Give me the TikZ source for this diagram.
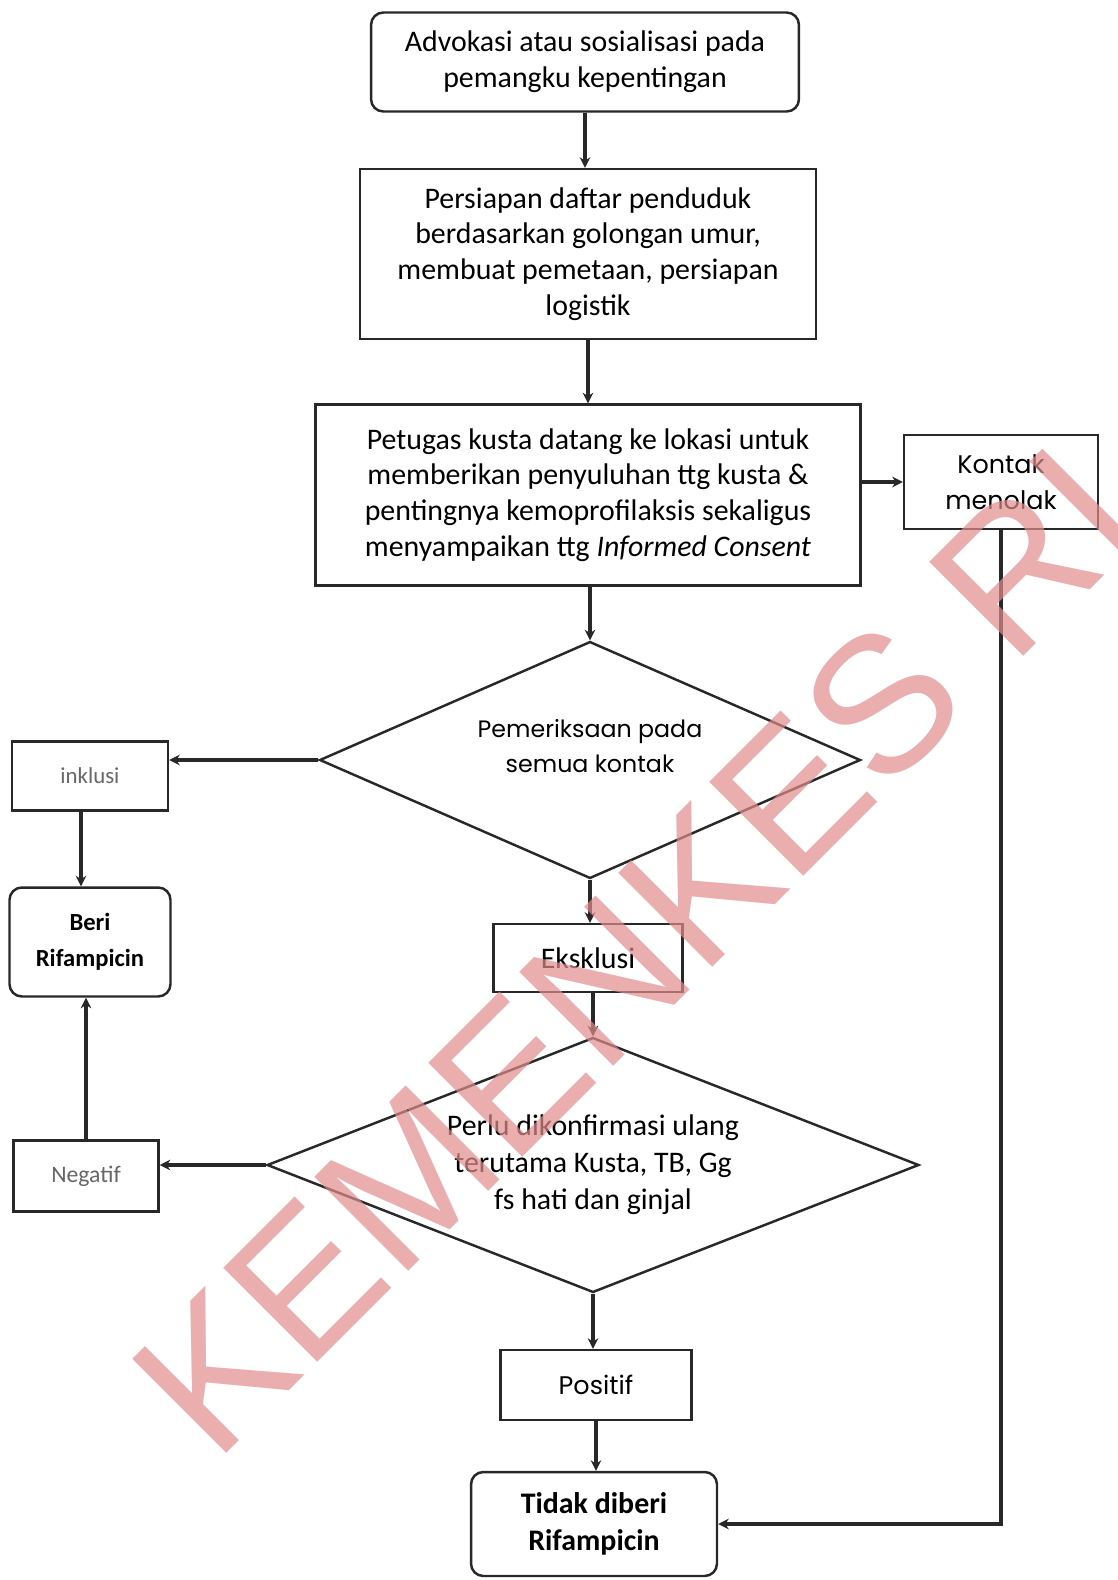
\documentclass[tikz,border=0pt]{standalone}
\usepackage{fontspec}
\setmainfont{Carlito}
\newfontfamily\geo{Poppins}
\newfontfamily\wmfont{Liberation Sans}
\usetikzlibrary{shapes.geometric,arrows.meta}
\definecolor{wmred}{RGB}{225,140,140}
\definecolor{ink}{RGB}{40,40,40}
\begin{document}
\begin{tikzpicture}[x=0.02cm,y=-0.02cm,
  box/.style={draw=ink,line width=1.4pt,align=center,inner sep=0pt,
    font=\fontsize{17}{20.4}\selectfont},
  rbox/.style={box,rounded corners=7pt},
  dia/.style={diamond,draw=ink,line width=1.4pt,align=center,inner sep=0pt,shape aspect=2.4},
  conn/.style={draw=ink,line width=2pt,-{Stealth[length=6pt,width=6pt]}},
]
\useasboundingbox (0,0) rectangle (1117,1580);
\clip (0,0) rectangle (1117,1580);

% main column
\node[rbox,minimum width=8.56cm,minimum height=1.98cm] (adv) at (585,62)
  {Advokasi atau sosialisasi pada\\pemangku kepentingan};
\node[box,minimum width=9.12cm,minimum height=3.4cm] (per) at (588,254)
  {Persiapan daftar penduduk\\berdasarkan golongan umur,\\membuat pemetaan, persiapan\\logistik};
\node[box,minimum width=10.9cm,minimum height=3.62cm] (pet) at (588,495)
  {Petugas kusta datang ke lokasi untuk\\memberikan penyuluhan ttg kusta \&\\pentingnya kemoprofilaksis sekaligus\\menyampaikan ttg \textit{Informed Consent}};
\node[box,minimum width=3.88cm,minimum height=1.88cm,font=\geo\fontsize{14.5}{20.4}\selectfont] (kon) at (1001,482)
  {Kontak\\menolak};

\node[dia,minimum width=10.82cm,minimum height=4.74cm] (d1) at (590,760) {};
\node[align=center,inner sep=0pt,font=\geo\fontsize{13.5}{20.4}\selectfont] (d1t) at (590,746)
  {Pemeriksaan pada\\semua kontak};
\node[box,minimum width=3.12cm,minimum height=1.38cm,text=black!60,font=\fontsize{13}{16}\selectfont] (ink) at (90,776)
  {inklusi};
\node[rbox,minimum width=3.22cm,minimum height=2.18cm,font=\bfseries\fontsize{14}{20.4}\selectfont] (beri) at (90,942)
  {Beri\\Rifampicin};
\node[box,minimum width=3.78cm,minimum height=1.36cm] (eks) at (588,958)
  {Eksklusi};

\node[dia,minimum width=13.04cm,minimum height=5.1cm,font=\fontsize{17}{21}\selectfont] (d2) at (593,1165)
  {Perlu dikonfirmasi ulang\\terutama Kusta, TB, Gg\\fs hati dan ginjal};
\node[box,minimum width=2.9cm,minimum height=1.42cm,text=black!60,font=\fontsize{13.5}{16}\selectfont] (neg) at (86,1176)
  {Negatif};
\node[box,minimum width=3.82cm,minimum height=1.4cm,font=\geo\fontsize{14.5}{16}\selectfont] (pos) at (596,1385)
  {Positif};
\node[rbox,minimum width=4.92cm,minimum height=2.08cm,font=\bfseries\fontsize{17}{21}\selectfont] (tid) at (594,1524)
  {Tidak diberi\\Rifampicin};

% connectors
\draw[conn] (adv.south) -- (adv.south |- per.north);
\draw[conn] (per.south) -- (per.south |- pet.north);
\draw[conn] (pet.south -| d1.north) -- (d1.north);
\draw[conn] (pet.east |- kon.west) -- (kon.west);
\draw[conn] (kon.south) |- (tid.east);
\draw[conn] (d1.west) -- (d1.west -| ink.east);
\draw[conn] ([xshift=-0.18cm]ink.south) -- ([xshift=-0.18cm]ink.south |- beri.north);
\draw[conn] (d1.south) -- (d1.south |- eks.north);
\draw[conn] (eks.south -| d2.north) -- (d2.north);
\draw[conn] (d2.west) -- (d2.west -| neg.east);
\draw[conn] (neg.north) -- (neg.north |- beri.south);
\draw[conn] (d2.south) -- (d2.south |- pos.north);
\draw[conn] (pos.south) -- (pos.south |- tid.north);

% watermark
\node[rotate=45,anchor=base west,inner sep=0pt,text=wmred,text opacity=0.7,
  font=\wmfont\fontsize{110}{110}\selectfont] (wm) at (215,1465) {KEMENKES RI};
\end{tikzpicture}
\end{document}
